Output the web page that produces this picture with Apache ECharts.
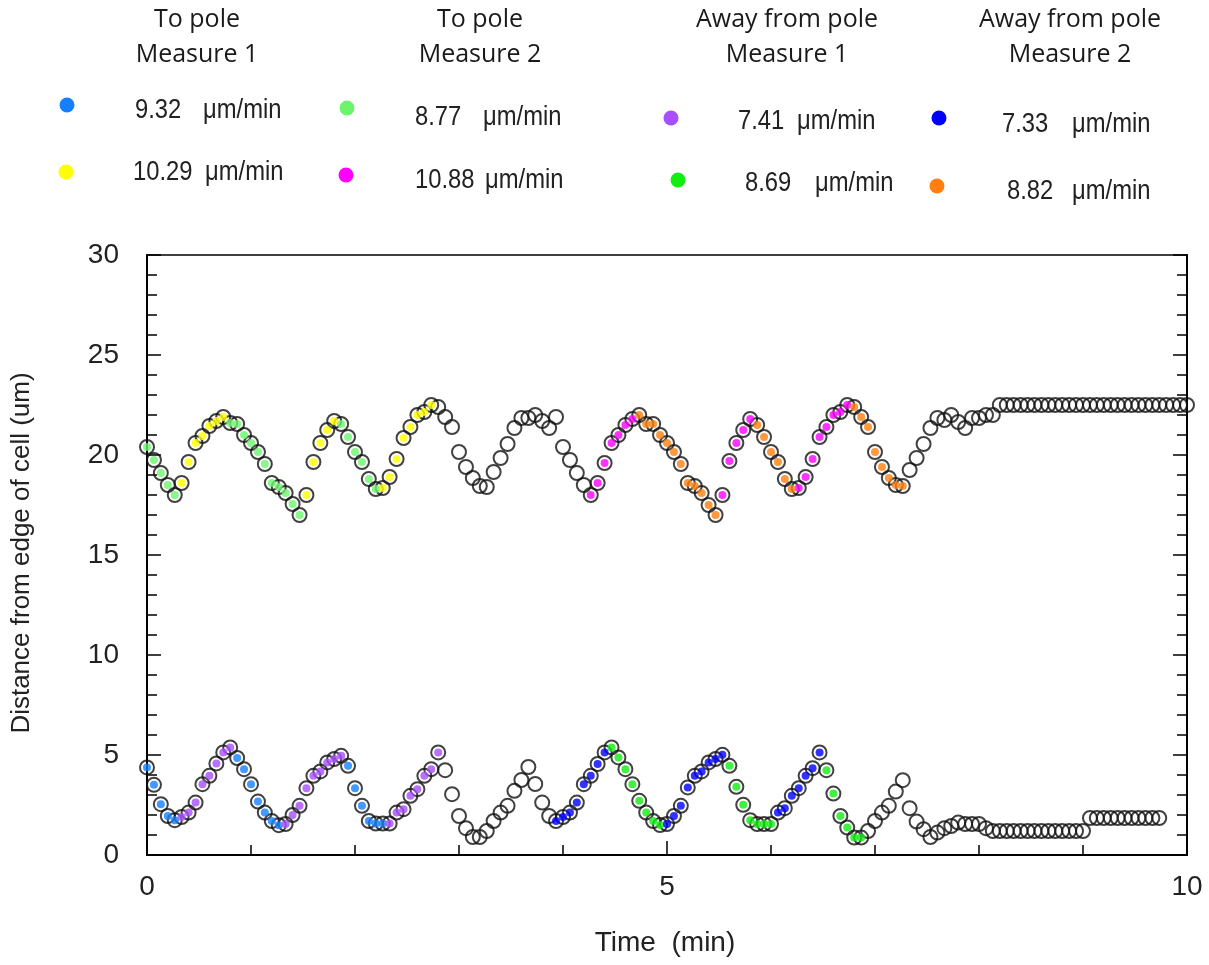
<!DOCTYPE html>
<html>
<head>
<meta charset="utf-8">
<script src="https://cdn.jsdelivr.net/npm/echarts@6/dist/echarts.min.js"></script>
<style>
html,body{margin:0;padding:0;background:#fff;}
#chart{width:1209px;height:965px;}
</style>
</head>
<body>
<div id="chart"></div>
<script>
// ---- data ----
const timeMin = [
  0,0.067,0.133,0.2,0.267,0.333,0.4,0.467,0.533,0.6,0.667,0.733,0.8,0.867,0.933,
  1,1.067,1.133,1.2,1.267,1.333,1.4,1.467,1.533,1.6,1.667,1.733,1.8,1.867,1.933,
  2,2.067,2.133,2.2,2.267,2.333,2.4,2.467,2.533,2.6,2.667,2.733,2.8,2.867,2.933,
  3,3.067,3.133,3.2,3.267,3.333,3.4,3.467,3.533,3.6,3.667,3.733,3.8,3.867,3.933,
  4,4.067,4.133,4.2,4.267,4.333,4.4,4.467,4.533,4.6,4.667,4.733,4.8,4.867,4.933,
  5,5.067,5.133,5.2,5.267,5.333,5.4,5.467,5.533,5.6,5.667,5.733,5.8,5.867,5.933,
  6,6.067,6.133,6.2,6.267,6.333,6.4,6.467,6.533,6.6,6.667,6.733,6.8,6.867,6.933,
  7,7.067,7.133,7.2,7.267,7.333,7.4,7.467,7.533,7.6,7.667,7.733,7.8,7.867,7.933,
  8,8.067,8.133,8.2,8.267,8.333,8.4,8.467,8.533,8.6,8.667,8.733,8.8,8.867,8.933,
  9,9.067,9.133,9.2,9.267,9.333,9.4,9.467,9.533,9.6,9.667,9.733,9.8,9.867,9.933,
  10
];

const upperDistance = [
  20.4,19.75,19.1,18.5,18.0,18.6,19.65,20.6,20.95,21.45,21.7,21.9,21.6,21.55,21.0,
  20.6,20.15,19.55,18.6,18.4,18.1,17.55,17.0,18.0,19.65,20.6,21.25,21.7,21.55,20.9,
  20.15,19.65,18.8,18.3,18.35,18.9,19.8,20.85,21.4,22.0,22.15,22.5,22.4,21.9,21.4,
  20.15,19.4,18.85,18.45,18.4,19.15,19.85,20.55,21.35,21.85,21.85,22.0,21.7,21.35,21.9,
  20.4,19.75,19.1,18.5,18.0,18.6,19.6,20.6,21.0,21.5,21.8,22.0,21.55,21.55,21.0,
  20.6,20.15,19.55,18.6,18.45,18.1,17.5,17.0,18.0,19.7,20.6,21.25,21.8,21.5,20.9,
  20.15,19.65,18.8,18.3,18.35,18.9,19.8,20.9,21.4,22.0,22.15,22.5,22.4,21.9,21.4,
  20.15,19.4,18.85,18.5,18.45,19.25,19.85,20.55,21.35,21.85,21.75,22.0,21.65,21.35,21.85,
  21.85,22.0,22.0,22.5,22.5,22.5,22.5,22.5,22.5,22.5,22.5,22.5,22.5,22.5,22.5,
  22.5,22.5,22.5,22.5,22.5,22.5,22.5,22.5,22.5,22.5,22.5,22.5,22.5,22.5,22.5,
  22.5
];

const lowerDistance = [
  4.38,3.51,2.54,1.95,1.74,1.9,2.12,2.62,3.54,3.96,4.58,5.13,5.38,4.85,4.29,
  3.54,2.67,2.12,1.7,1.49,1.55,2.0,2.46,3.34,3.96,4.18,4.63,4.8,4.96,4.46,
  3.34,2.46,1.7,1.57,1.57,1.57,2.12,2.29,2.96,3.29,3.96,4.29,5.13,4.24,3.04,
  1.95,1.34,0.9,0.9,1.2,1.7,2.12,2.46,3.21,3.75,4.4,3.55,2.62,1.95,1.7,
  1.9,2.12,2.62,3.54,3.96,4.55,5.13,5.38,4.88,4.29,3.54,2.71,2.12,1.7,1.5,
  1.55,1.95,2.46,3.38,3.96,4.18,4.63,4.8,5.01,4.46,3.41,2.51,1.74,1.55,1.55,
  1.55,2.12,2.34,2.96,3.34,3.96,4.34,5.13,4.24,3.07,1.95,1.37,0.87,0.87,1.2,
  1.7,2.12,2.46,3.17,3.74,2.34,1.67,1.29,0.9,1.12,1.34,1.45,1.62,1.55,1.55,
  1.55,1.34,1.2,1.2,1.2,1.2,1.2,1.2,1.2,1.2,1.2,1.2,1.2,1.2,1.2,
  1.2,1.85,1.85,1.85,1.85,1.85,1.85,1.85,1.85,1.85,1.85,1.85
];

// filled-marker runs: [firstIndex, lastIndex, key]
const upperFillRuns = [
  [0,4,'C'],[5,11,'B'],[12,22,'C'],[23,27,'B'],[28,33,'C'],[34,41,'B'],
  [64,70,'D'],[71,82,'H'],[83,87,'D'],[88,93,'H'],[94,101,'D'],[102,109,'H']
];
const lowerFillRuns = [
  [0,4,'A'],[5,12,'E'],[13,19,'A'],[20,28,'E'],[29,34,'A'],[35,42,'E'],
  [59,66,'G'],[67,74,'F'],[75,83,'G'],[84,90,'F'],[91,97,'G'],[98,103,'F']
];

const fillKeys = ['A','B','C','D','E','F','G','H'];
const fillColors = {A:'#1580ff',B:'#ffff00',C:'#6cf56c',D:'#ff00ff',E:'#a84dff',F:'#11ee11',G:'#0000ff',H:'#ff7f10'};
const fillRates = {A:'9.32',B:'10.29',C:'8.77',D:'10.88',E:'7.41',F:'8.69',G:'7.33',H:'8.82'};
const groupHeaders = [['To pole','Measure 1'],['To pole','Measure 2'],['Away from pole','Measure 1'],['Away from pole','Measure 2']];
const rateUnit = 'μm/min';
const xTicks = [0,5,10];
const yTicks = [0,5,10,15,20,25,30];

// ---- layout (positions only) ----
const headerX = [197,480,787,1070];
const legendLayout = {
  A:{dot:[67,105], num:[135,110], unit:[203,110]},
  B:{dot:[66,172], num:[133,172], unit:[205,172]},
  C:{dot:[347,108], num:[415,117], unit:[483,117]},
  D:{dot:[346,175], num:[415,180], unit:[485,180]},
  E:{dot:[671,118], num:[738,121], unit:[797,121]},
  F:{dot:[678,180], num:[745,183], unit:[815,183]},
  G:{dot:[939,118], num:[1002,124], unit:[1072,124]},
  H:{dot:[937,186], num:[1007,191], unit:[1072,191]}
};

const NARROW = "'Liberation Sans Narrow','Arial Narrow','Liberation Sans',sans-serif";
const HEAD = "'Open Sans','Liberation Sans',sans-serif";

const upperPts = upperDistance.map((v,i)=>[timeMin[i], v]);
const lowerPts = lowerDistance.map((v,i)=>[timeMin[i], v]);

const fillData = {};
fillKeys.forEach(k=>fillData[k]=[]);
upperFillRuns.forEach(([a,b,k])=>{for(let i=a;i<=b;i++) fillData[k].push(upperPts[i]);});
lowerFillRuns.forEach(([a,b,k])=>{for(let i=a;i<=b;i++) fillData[k].push(lowerPts[i]);});

const openStyle = {color:'rgba(0,0,0,0)', borderColor:'#111', borderWidth:2};
const series = [
  {name:'upper', type:'scatter', data:upperPts, symbol:'circle', symbolSize:14, itemStyle:openStyle, z:2, silent:true},
  {name:'lower', type:'scatter', data:lowerPts, symbol:'circle', symbolSize:14, itemStyle:openStyle, z:2, silent:true}
];
fillKeys.forEach(k=>{
  series.push({name:fillRates[k]+' '+rateUnit, type:'scatter', data:fillData[k], symbol:'circle', symbolSize:8,
    itemStyle:{color:fillColors[k]}, z:3, silent:true});
});

const graphics = [];
groupHeaders.forEach((h,gi)=>{
  graphics.push({type:'text', x:headerX[gi], y:20, style:{text:h[0], font:'25px '+HEAD, fill:'#1a1a1a', textAlign:'center', textVerticalAlign:'middle'}});
  graphics.push({type:'text', x:headerX[gi], y:55, style:{text:h[1], font:'25px '+HEAD, fill:'#1a1a1a', textAlign:'center', textVerticalAlign:'middle'}});
});
fillKeys.forEach(k=>{
  const L = legendLayout[k];
  graphics.push({type:'circle', shape:{cx:L.dot[0], cy:L.dot[1], r:7.5}, style:{fill:fillColors[k]}});
  graphics.push({type:'text', x:L.num[0], y:L.num[1], scaleX:0.85, style:{text:fillRates[k], font:'28px '+NARROW, fill:'#222', textVerticalAlign:'middle'}});
  graphics.push({type:'text', x:L.unit[0], y:L.unit[1], scaleX:0.85, style:{text:rateUnit, font:'28px '+NARROW, fill:'#222', textVerticalAlign:'middle'}});
});
graphics.push({type:'text', x:22, y:553, rotation:Math.PI/2, style:{text:'Distance from edge of cell (um)', font:'26px '+NARROW, fill:'#222', textAlign:'center', textVerticalAlign:'middle'}});
graphics.push({type:'text', x:665, y:943, style:{text:'Time  (min)', font:'28px '+NARROW, fill:'#222', textAlign:'center', textVerticalAlign:'middle'}});

const axisCommon = {
  axisLine:{show:true, onZero:false, lineStyle:{color:'#000', width:2}},
  axisTick:{show:true, inside:true, length:14, lineStyle:{color:'#000', width:1.5}},
  minorTick:{show:true, splitNumber:5, length:10, lineStyle:{color:'#000', width:1.5}},
  splitLine:{show:false}
};

const chart = echarts.init(document.getElementById('chart'), null, {renderer:'canvas'});
chart.setOption({
  animation:false,
  backgroundColor:'#fff',
  grid:{left:147, right:22, top:255, bottom:110, show:true, borderColor:'#000', borderWidth:1.5, backgroundColor:'transparent'},
  xAxis:Object.assign({type:'value', min:xTicks[0], max:xTicks[xTicks.length-1], interval:xTicks[1]-xTicks[0],
    axisLabel:{fontSize:28, fontFamily:NARROW, color:'#222', margin:18}}, axisCommon),
  yAxis:[
    Object.assign({type:'value', min:yTicks[0], max:yTicks[yTicks.length-1], interval:yTicks[1]-yTicks[0], position:'left',
      axisLabel:{fontSize:28, fontFamily:NARROW, color:'#222', margin:28}}, axisCommon),
    Object.assign({type:'value', min:yTicks[0], max:yTicks[yTicks.length-1], interval:yTicks[1]-yTicks[0], position:'right',
      axisLabel:{show:false}}, axisCommon)
  ],
  series:series,
  graphic:graphics
});
</script>
</body>
</html>
